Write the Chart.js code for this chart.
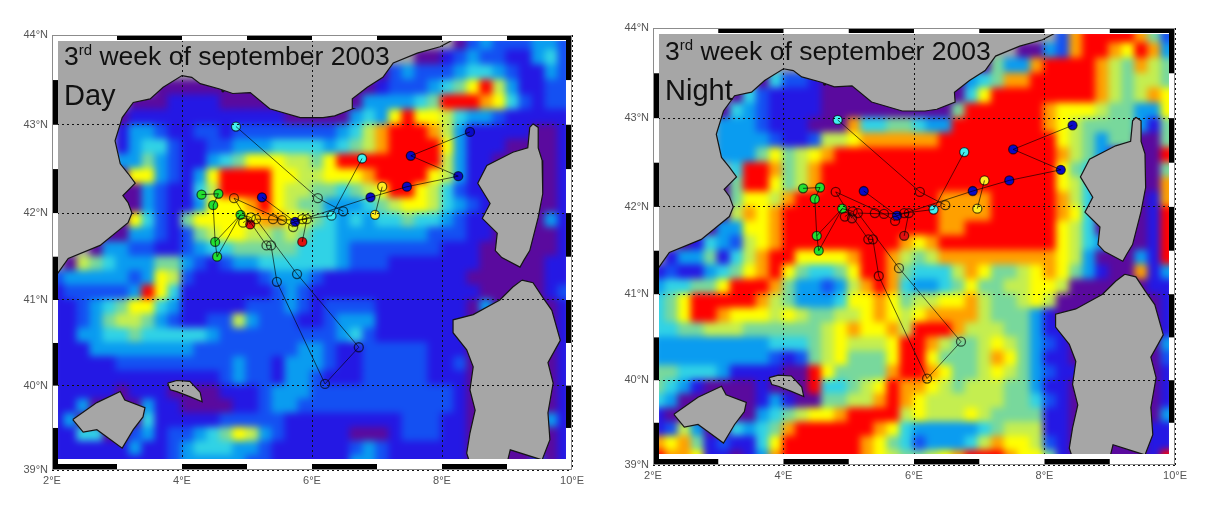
<!DOCTYPE html>
<html>
<head>
<meta charset="utf-8">
<title>3rd week of september 2003</title>
<script src="https://cdn.jsdelivr.net/npm/chart.js@4/dist/chart.umd.min.js"></script>
<style>
    html, body { margin: 0; padding: 0; background: #fff; }
    #page { position: relative; width: 1206px; height: 510px; overflow: hidden; }
    canvas { position: absolute; left: 0; top: 0; }
    .heat { filter: blur(3.5px); }
</style>
</head>
<body>
<div id="page">
    <canvas class="heat" id="dayHeat" width="1206" height="510"></canvas>
    <canvas id="dayMap" width="1206" height="510"></canvas>
    <canvas class="heat" id="nightHeat" width="1206" height="510"></canvas>
    <canvas id="nightMap" width="1206" height="510"></canvas>
</div>
<script>
// Grid: 40 columns of 0.2 deg from 2E, 30 rows of 1/6 deg from 44N.
// 0-9 is the colour level, a dot is land.
const dayGrid = [
    "..... ..... ..... ..... ..... ..... .0232 22332",
    "..... ..... ..... ..... ..... ...00 12322 11342",
    "..... ..... ..... ..... ..... 02322 23443 21132",
    "..... ...00 00000 00000 00000 12223 45796 31122",
    "..... .0001 11100 00000 00003 33345 99987 42122",
    "..... 01111 11111 11100 00034 37977 64332 11111",
    "..... 13321 12212 22222 22346 89998 63111 11001",
    "..... 13442 11223 33444 43456 89999 73111 00001",
    "..... 33532 11345 77766 57999 99999 63110 00001",
    "..... 07732 13799 99776 67778 99997 63111 00001",
    "..... 00321 14699 99766 55456 79976 42110 00001",
    "..... 00321 13777 89765 53334 56776 43210 00001",
    "..... 07421 57777 78877 54343 44544 32110 00031",
    "....0 03321 25677 66565 44333 33332 22110 00001",
    "...03 32211 23445 55554 44322 22222 11100 00001",
    ".0654 33355 32123 34444 44322 21111 11100 00011",
    "23333 32376 21111 12333 21111 11111 11000 00011",
    "12222 23974 11111 11232 11111 11111 11100 00012",
    "11234 57743 11111 22232 12222 11111 11030 00001",
    "11235 66532 11226 32221 12333 11111 11000 00001",
    "11334 45444 44322 22222 22342 11111 11000 00001",
    "11133 33333 32222 22223 32112 22221 11000 00001",
    "11111 22222 22223 22133 32112 22221 12000 00001",
    "11111 11111 11123 22133 21112 22221 11000 00001",
    "11111 01110 00011 12333 22222 22222 21000 00001",
    "11300 00311 00001 12332 22222 22222 21000 00001",
    "13000 00411 11122 22211 11111 11222 11000 00031",
    "11440 02312 23457 63211 11100 01222 11000 00001",
    "11111 13112 34443 32111 11123 21111 11000 00001",
    "11111 11112 33333 22111 11133 21111 11000 00201"
];

const nightGrid = [
    "..... ..... ..... ..... ..... ..... .2899 99852",
    "..... ..... ..... ..... ..... ...00 32899 87983",
    "..... ..... ..... ..... ..... 05338 99998 65865",
    "..... ...04 22100 00000 00003 45889 99998 65665",
    "..... .0421 11100 00000 00004 79999 99998 65687",
    "..... 04321 11100 00000 00059 99999 87776 55337",
    "..... 33321 11000 84455 43399 99999 87655 55315",
    "..... 33332 11266 78888 88999 99999 97653 55005",
    "..... 33357 56789 99999 99999 99999 98653 10009",
    "..... .4998 56899 99999 99999 99999 97542 00005",
    "..... 05997 56899 99999 99999 99999 97640 00008",
    "..... 05776 89999 99999 99888 89999 98640 00018",
    "..... 06878 99999 99999 99888 89999 98740 00019",
    "....0 33778 99999 99999 99889 99999 97640 00019",
    "..014 32678 99999 99998 78999 99999 97643 00019",
    ".1335 14689 97777 89986 56888 88888 87630 00319",
    "12113 45789 75445 79985 44468 75567 87531 00813",
    "34455 79998 53323 68984 33457 55667 76000 00011",
    "45799 99986 53334 77875 66778 65567 60000 00001",
    "45799 87776 76556 67876 78888 65553 10000 00001",
    "44556 66555 55567 87786 99986 66553 11000 00001",
    "33333 33334 44567 66679 98655 67653 21000 00003",
    "33333 33332 12567 55579 97555 68753 11000 00002",
    "55444 31111 00975 55589 98755 67653 21100 00001",
    "54310 00010 00944 56798 87656 66553 11000 00001",
    "43000 00013 10055 66898 76666 66554 21000 00001",
    "10000 00034 56778 99996 76667 65555 11000 00003",
    "12630 04345 89999 99874 33333 45666 11000 00011",
    "87851 21147 99999 98754 23334 68776 21000 00011",
    "98871 10138 99999 98765 56789 99877 51000 00019"
];

const levelColors = ["#5a0a9e", "#2418e4", "#1450f2", "#0a9cf0", "#30d2e6", "#78d89c", "#c4ee50", "#ffff00", "#ffa000", "#ff0000"];
const landColor = "#a6a6a6";

// Coast lines, [lon, lat]
const mainland = [[2, 44], [2, 41.2], [2.09, 41.31], [2.25, 41.48], [2.74, 41.63], [3.17, 41.89], [3.23, 42], [3.17, 42.12], [3.09, 42.2], [3.28, 42.34], [3.17, 42.45], [3.05, 42.56], [2.97, 42.82], [3.08, 43.08], [3.25, 43.25], [3.51, 43.29], [3.71, 43.42], [4, 43.55], [4.15, 43.53], [4.28, 43.46], [4.58, 43.4], [4.78, 43.35], [5.05, 43.36], [5.35, 43.18], [5.82, 43.08], [6.17, 43.08], [6.35, 43.1], [6.63, 43.18], [6.62, 43.29], [6.85, 43.42], [7.09, 43.53], [7.25, 43.69], [7.62, 43.8], [7.97, 43.87], [8.15, 43.94], [8.2, 44], [2, 44]];
const corsica = [[9.4, 43.01], [9.48, 42.97], [9.48, 42.74], [9.54, 42.6], [9.55, 42.22], [9.48, 41.95], [9.35, 41.57], [9.26, 41.46], [9.2, 41.38], [8.92, 41.49], [8.82, 41.57], [8.85, 41.77], [8.62, 41.94], [8.74, 42.11], [8.55, 42.34], [8.69, 42.54], [9.09, 42.69], [9.32, 42.74], [9.35, 42.97], [9.4, 43.01]];
const sardinia = [[9.23, 41.23], [9.4, 41.2], [9.55, 41.03], [9.69, 40.88], [9.82, 40.53], [9.63, 40.27], [9.71, 40.03], [9.63, 39.68], [9.66, 39.36], [9.54, 39.12], [9.05, 39.24], [9, 39.08], [8.43, 39.08], [8.38, 39.2], [8.43, 39.44], [8.51, 39.71], [8.43, 39.95], [8.48, 40.22], [8.38, 40.42], [8.17, 40.62], [8.17, 40.77], [8.48, 40.83], [8.89, 41], [9.09, 41.15], [9.23, 41.23]];
const mallorca = [[2.32, 39.6], [2.69, 39.8], [3.05, 39.93], [3.12, 39.83], [3.43, 39.74], [3.4, 39.63], [3.25, 39.48], [3.08, 39.26], [2.85, 39.39], [2.69, 39.48], [2.48, 39.45], [2.32, 39.6]];
const menorca = [[3.78, 40.03], [3.92, 40.06], [4.12, 40.05], [4.28, 39.92], [4.31, 39.81], [4.12, 39.87], [3.92, 39.93], [3.82, 39.95], [3.78, 40.03]];
const lakes = [[9.02, 40.73], [8.92, 40.13], [9.25, 39.63], [2.4, 42], [2.52, 42], [4.63, 43.38], [4.28, 43.64], [4.97, 43.46], [3.6, 43.42]];

// Float tracks, [lon, lat]
const tracks = [
    [[8.43, 42.92], [7.52, 42.65], [8.25, 42.42], [7.46, 42.3], [6.9, 42.18], [5.74, 41.9], [5.23, 42.18]],
    [[4.83, 42.98], [6.09, 42.17], [6.48, 42.02]],
    [[6.77, 42.62], [6.3, 41.97], [5.85, 41.93]],
    [[7.08, 42.3], [6.97, 41.98]],
    [[5.85, 41.67], [5.92, 41.93], [5.54, 41.92], [5.14, 41.93]],
    [[5.05, 41.87], [4.8, 42.17], [5.54, 41.92], [5.71, 41.84]],
    [[4.3, 42.21], [4.56, 42.22], [4.48, 42.09], [4.51, 41.67], [4.54, 41.5], [4.9, 41.98], [4.51, 41.67]],
    [[4.9, 41.98], [5.06, 41.95], [4.94, 41.89]],
    [[5.14, 41.93], [5.77, 41.3], [6.72, 40.45], [6.2, 40.02], [5.46, 41.21], [5.37, 41.63], [5.3, 41.63], [5, 41.95]]
];
const openPoints = [[4.8, 42.17], [4.94, 41.89], [5.06, 41.95], [5.14, 41.93], [5.4, 41.93], [5.54, 41.92], [5.71, 41.84], [5.3, 41.63], [5.37, 41.63], [5.46, 41.21], [5.77, 41.3], [6.2, 40.02], [6.72, 40.45], [6.09, 42.17], [6.48, 42.02], [5.92, 41.93], [5.85, 41.93]];
const greenPoints = [[4.3, 42.21], [4.56, 42.22], [4.48, 42.09], [4.9, 41.98], [4.51, 41.67], [4.54, 41.5]];
const bluePoints = [[5.23, 42.18], [5.74, 41.9], [6.9, 42.18], [7.46, 42.3], [7.52, 42.65], [8.43, 42.92], [8.25, 42.42]];
const cyanPoints = [[4.83, 42.98], [6.77, 42.62], [6.3, 41.97]];
const yellowPoints = [[7.08, 42.3], [6.97, 41.98]];
const redPoints = [[5.05, 41.87], [5.85, 41.67]];

const lonLabels = [2, 4, 6, 8, 10];
const latLabels = [39, 40, 41, 42, 43, 44];

// Black pieces of the map frame, in degrees
const topBlack = [[3, 4], [5, 6], [7, 8], [9, 10]];
const bottomBlack = [[2, 3], [4, 5], [6, 7], [8, 9]];
const leftBlack = [[43.5, 43], [42.5, 42], [41.5, 41], [40.5, 40], [39.5, 39]];
const rightBlack = [[44, 43.5], [43, 42.5], [42, 41.5], [41, 40.5], [40, 39.5]];

const pageW = 1206, pageH = 510;
const LINE_COLOR = "rgba(0,0,0,0.62)";

function merc(lat) {
    return Math.log(Math.tan(Math.PI / 4 + lat * Math.PI / 360));
}

function toXY(list) {
    return list.map(p => ({ x: p[0], y: merc(p[1]) }));
}

function gridCells(rows) {
    const cells = [];
    const colors = [];
    rows.forEach((row, r) => {
        row.replace(/ /g, "").split("").forEach((ch, c) => {
            cells.push({ x: 2.1 + c * 0.2, y: merc(44 - (r + 0.5) / 6) });
            colors.push(ch === "." ? landColor : levelColors[+ch]);
        });
    });
    return { cells, colors };
}

function heatChart(id, rows, box) {
    const g = gridCells(rows);
    const canvas = document.getElementById(id);
    // keep the blur from running out past the frame
    canvas.style.clipPath = `inset(${box.top}px ${pageW - box.right}px ${pageH - box.bottom}px ${box.left}px)`;
    new Chart(canvas, {
        type: "scatter",
        data: {
            datasets: [{
                data: g.cells,
                pointStyle: "rect",
                pointRadius: 11.5,
                pointBackgroundColor: g.colors,
                pointBorderWidth: 0
            }]
        },
        options: {
            responsive: false,
            animation: false,
            events: [],
            layout: { padding: { left: box.left, right: pageW - box.right, top: box.top, bottom: pageH - box.bottom } },
            plugins: { legend: { display: false }, tooltip: { enabled: false } },
            scales: {
                x: { display: false, min: 2, max: 10 },
                y: { display: false, min: merc(39), max: merc(44) }
            }
        }
    });
}

// White and black strips round the map, plus the big labels
const framePlugin = {
    id: "frame",
    afterDraw(chart, args, opts) {
        const { ctx, chartArea: a, scales: { x, y } } = chart;
        const t = opts.band;
        ctx.save();
        ctx.fillStyle = "#fff";
        ctx.fillRect(a.left, a.top, a.width, t);
        ctx.fillRect(a.left, a.bottom - t - 5, a.width, t + 5);
        ctx.fillRect(a.left, a.top, t, a.height);
        ctx.fillRect(a.right - t, a.top, t, a.height);
        ctx.fillStyle = "#000";
        topBlack.forEach(s => ctx.fillRect(x.getPixelForValue(s[0]), a.top, x.getPixelForValue(s[1]) - x.getPixelForValue(s[0]), t - 1));
        bottomBlack.forEach(s => ctx.fillRect(x.getPixelForValue(s[0]), a.bottom - t, x.getPixelForValue(s[1]) - x.getPixelForValue(s[0]), t));
        leftBlack.forEach(s => ctx.fillRect(a.left, y.getPixelForValue(merc(s[0])), t, y.getPixelForValue(merc(s[1])) - y.getPixelForValue(merc(s[0]))));
        rightBlack.forEach(s => ctx.fillRect(a.right - t, y.getPixelForValue(merc(s[0])), t, y.getPixelForValue(merc(s[1])) - y.getPixelForValue(merc(s[0]))));
        ctx.strokeStyle = "#8c8c8c";
        ctx.lineWidth = 1;
        ctx.strokeRect(a.left + 0.5, a.top + 0.5, a.width - 1, a.height - 1);

        ctx.fillStyle = "#111";
        ctx.textBaseline = "alphabetic";
        ctx.textAlign = "left";
        let px = opts.titleX;
        ctx.font = "26.5px 'Liberation Sans'";
        ctx.fillText("3", px, opts.titleY);
        px += ctx.measureText("3").width;
        ctx.font = "15px 'Liberation Sans'";
        ctx.fillText("rd", px, opts.titleY - 10);
        px += ctx.measureText("rd").width;
        ctx.font = "26.5px 'Liberation Sans'";
        ctx.fillText(" week of september 2003", px, opts.titleY);
        ctx.font = "29px 'Liberation Sans'";
        ctx.fillText(opts.name, opts.titleX, opts.nameY);
        ctx.restore();
    }
};

function mapChart(id, box, labels) {
    const axisW = 50, axisH = 30;
    const land = [mainland, corsica, sardinia, mallorca, menorca].map(list => ({
        type: "line",
        data: toXY(list),
        fill: "shape",
        tension: 0,
        pointRadius: 0,
        borderColor: "#151515",
        borderWidth: 1.2,
        backgroundColor: landColor
    }));
    const lakeSet = {
        data: toXY(lakes),
        pointStyle: "circle",
        pointRadius: 1.6,
        pointBorderWidth: 0,
        pointBackgroundColor: "#151515"
    };
    const trackSets = tracks.map(list => ({
        data: toXY(list),
        showLine: true,
        tension: 0,
        pointRadius: 0,
        borderColor: LINE_COLOR,
        borderWidth: 1
    }));
    const markers = (list, fill) => ({
        data: toXY(list),
        pointStyle: "circle",
        pointRadius: 4.5,
        pointBorderWidth: 1.3,
        pointBorderColor: LINE_COLOR,
        pointBackgroundColor: fill
    });
    new Chart(document.getElementById(id), {
        type: "scatter",
        data: {
            datasets: land.concat([lakeSet], trackSets, [
                markers(openPoints, "rgba(0,0,0,0)"),
                markers(greenPoints, "#22e030"),
                markers(bluePoints, "#0a0ac8"),
                markers(cyanPoints, "#40f0f0"),
                markers(yellowPoints, "#ffee22"),
                markers(redPoints, "#e01010")
            ])
        },
        options: {
            responsive: false,
            animation: false,
            events: [],
            layout: { padding: { left: box.left - axisW, right: pageW - box.right, top: box.top, bottom: pageH - box.bottom - axisH } },
            plugins: {
                legend: { display: false },
                tooltip: { enabled: false },
                frame: { band: 6, titleX: labels.x, titleY: labels.y, nameY: labels.nameY, name: labels.name }
            },
            scales: {
                x: {
                    type: "linear",
                    min: 2,
                    max: 10,
                    afterFit: scale => { scale.height = axisH; },
                    afterBuildTicks: scale => { scale.ticks = lonLabels.map(v => ({ value: v })); },
                    grid: { color: "#111", z: 1, drawTicks: false, tickLength: 0 },
                    border: { display: false, dash: [2, 3] },
                    ticks: {
                        autoSkip: false,
                        maxRotation: 0,
                        padding: 4,
                        color: "#555",
                        font: { family: "'Liberation Sans'", size: 11 },
                        callback: (v, i) => lonLabels[i] + "°E"
                    }
                },
                y: {
                    type: "linear",
                    min: merc(39),
                    max: merc(44),
                    afterFit: scale => { scale.width = axisW; },
                    afterBuildTicks: scale => { scale.ticks = latLabels.map(v => ({ value: merc(v) })); },
                    grid: { color: "#111", z: 1, drawTicks: false, tickLength: 0 },
                    border: { display: false, dash: [2, 3] },
                    ticks: {
                        autoSkip: false,
                        padding: 4,
                        color: "#555",
                        font: { family: "'Liberation Sans'", size: 11 },
                        callback: (v, i) => latLabels[i] + "°N"
                    }
                }
            }
        },
        plugins: [framePlugin]
    });
}

const dayBox = { left: 52, right: 572, top: 35, bottom: 470 };
const nightBox = { left: 653, right: 1175, top: 28, bottom: 465 };

heatChart("dayHeat", dayGrid, dayBox);
mapChart("dayMap", dayBox, { x: 64, y: 65, nameY: 105, name: "Day" });
heatChart("nightHeat", nightGrid, nightBox);
mapChart("nightMap", nightBox, { x: 665, y: 60, nameY: 100, name: "Night" });
</script>
</body>
</html>
